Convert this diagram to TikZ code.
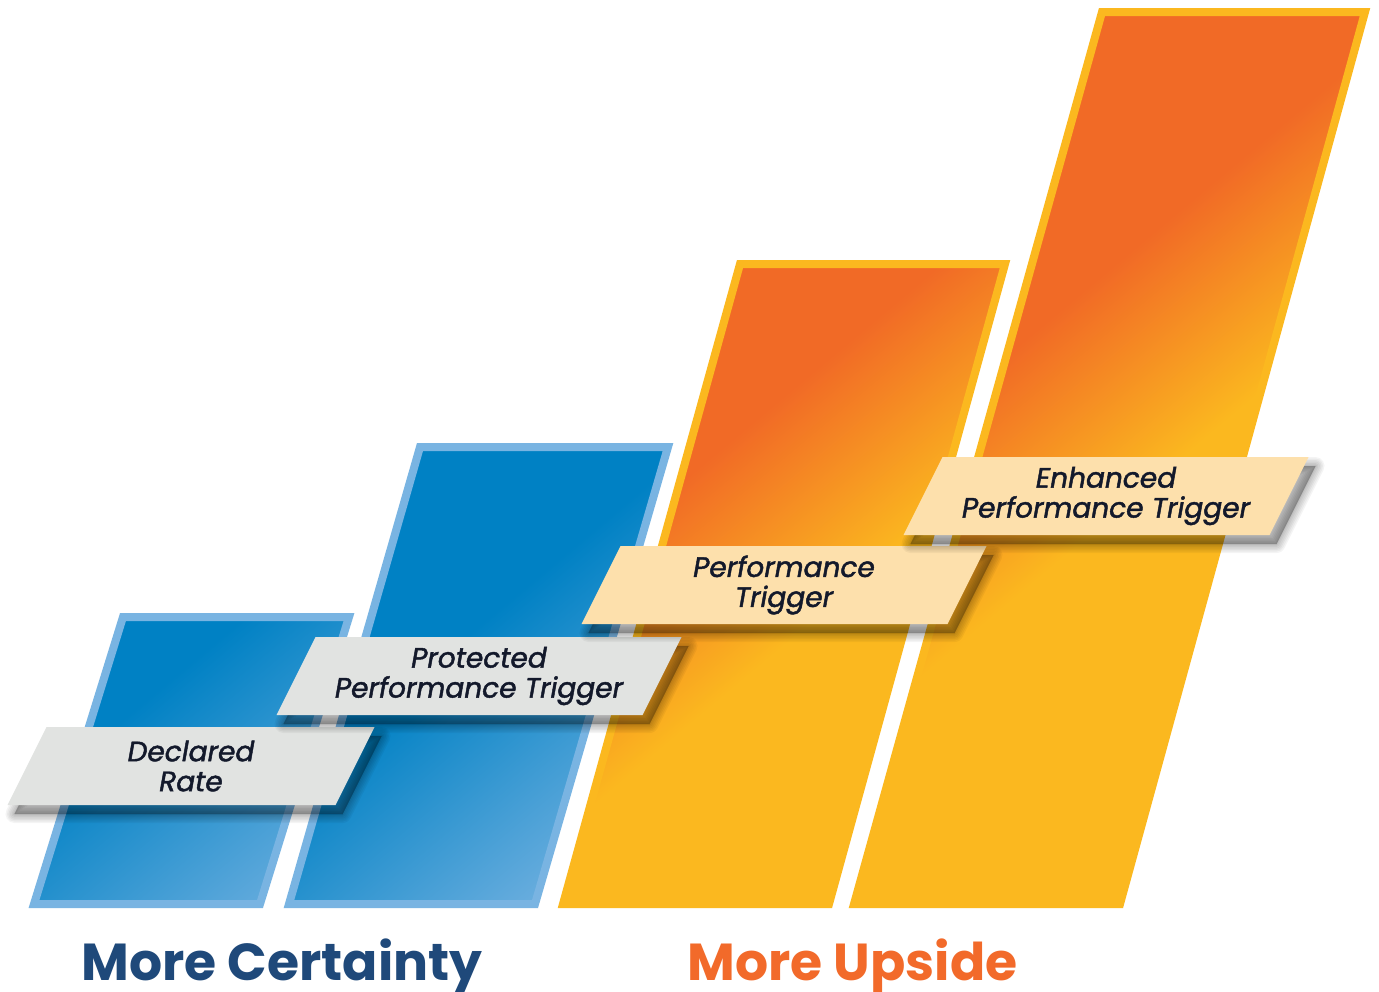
\documentclass[tikz,border=0pt]{standalone}
\usepackage{fontspec}
\setmainfont{Poppins}
\newfontfamily\tagfont[FakeBold=1.6]{Poppins}
\usetikzlibrary{positioning}
\definecolor{bluedeep}{HTML}{0081C4}
\definecolor{bluesoft}{HTML}{79B4E2}
\definecolor{orangedeep}{HTML}{F16A26}
\definecolor{yellowgold}{HTML}{FBB81F}
\definecolor{taggrey}{HTML}{E1E3E1}
\definecolor{tagcream}{HTML}{FDE0AC}
\definecolor{inknavy}{HTML}{13192B}
\definecolor{titlenavy}{HTML}{1F497A}
\definecolor{titleorange}{HTML}{F26A2A}

\pgfdeclareverticalshading{sunsetfade}{100bp}{color(0bp)=(yellowgold); color(46bp)=(yellowgold); color(54bp)=(orangedeep); color(100bp)=(orangedeep)}
\pgfdeclareverticalshading{skyfade}{100bp}{color(0bp)=(bluesoft); color(44bp)=(bluesoft); color(56bp)=(bluedeep); color(100bp)=(bluedeep)}

% slanted tag outline, #1 = length of the top edge
\newcommand{\tagpath}[1]{({19.5-#1/2},-39) -- ({19.5+#1/2},-39) -- ({#1/2-19.5},39) -- ({-19.5-#1/2},39) -- cycle}

\begin{document}
\begin{tikzpicture}[x=1pt, y=-1pt,
    blueslab/.style={draw=bluesoft, line width=8, line join=miter},
    orangeslab/.style={draw=yellowgold, line width=8, line join=miter},
    tagshade/.style={draw=black, fill=black, opacity=0.045, line join=round},
    greytag/.style={fill=taggrey},
    creamtag/.style={fill=tagcream},
    tagtext/.style={align=center, text=inknavy, inner sep=0pt, font=\tagfont\itshape\fontsize{28}{30}\selectfont},
    headline/.style={anchor=base west, font=\bfseries\fontsize{52}{56}\selectfont}]
    \fill[white] (0,0) rectangle (1379,991);
    \useasboundingbox (0,0) rectangle (1379,991);

    % bars
    \path[blueslab, path picture={\shade[shading=skyfade, shading angle=40] (-410,250) rectangle (790,1450);}]
        (123,617) -- (349,617) -- (260,904) -- (34,904) -- cycle;
    \path[blueslab, path picture={\shade[shading=skyfade, shading angle=40] (-130,220) rectangle (1070,1420);}]
        (420,447) -- (668,447) -- (535,904) -- (289,904) -- cycle;
    \path[orangeslab, path picture={\shade[shading=sunsetfade, shading angle=40] (280,-160) rectangle (1480,1040);}]
        (740,264) -- (1005,264) -- (829,904) -- (563,904) -- cycle;
    \path[orangeslab, path picture={\shade[shading=sunsetfade, shading angle=40] (571,-258) rectangle (1771,942);}]
        (1102,12) -- (1365,12) -- (1120,904) -- (854,904) -- cycle;

    % tags
    \begin{scope}[shift={(191,766)}]
        \foreach \w in {18,15,12,9,6,3,1}
            \filldraw[tagshade, line width=\w, shift={(7,9)}] \tagpath{328};
        \fill[greytag] \tagpath{328};
        \node[tagtext] (declared) at (0,0) {Declared\\Rate};
    \end{scope}
    \begin{scope}[shift={(479,676)}]
        \foreach \w in {18,15,12,9,6,3,1}
            \filldraw[tagshade, line width=\w, shift={(7,9)}] \tagpath{366};
        \fill[greytag] \tagpath{366};
        \node[tagtext] (protected) at (0,0) {Protected\\Performance Trigger};
    \end{scope}
    \begin{scope}[shift={(784,585)}]
        \foreach \w in {18,15,12,9,6,3,1}
            \filldraw[tagshade, line width=\w, shift={(7,9)}] \tagpath{366};
        \fill[creamtag] \tagpath{366};
        \node[tagtext] (trigger) at (0,0) {Performance\\Trigger};
    \end{scope}
    \begin{scope}[shift={(1106,496)}]
        \foreach \w in {18,15,12,9,6,3,1}
            \filldraw[tagshade, line width=\w, shift={(7,9)}] \tagpath{366};
        \fill[creamtag] \tagpath{366};
        \node[tagtext] (enhanced) at (0,0) {Enhanced\\Performance Trigger};
    \end{scope}

    % captions
    \node[headline, text=titlenavy] (certainty) at (78,980) {More Certainty};
    \node[headline, text=titleorange] (upside) at (684,980) {More Upside};
\end{tikzpicture}
\end{document}
